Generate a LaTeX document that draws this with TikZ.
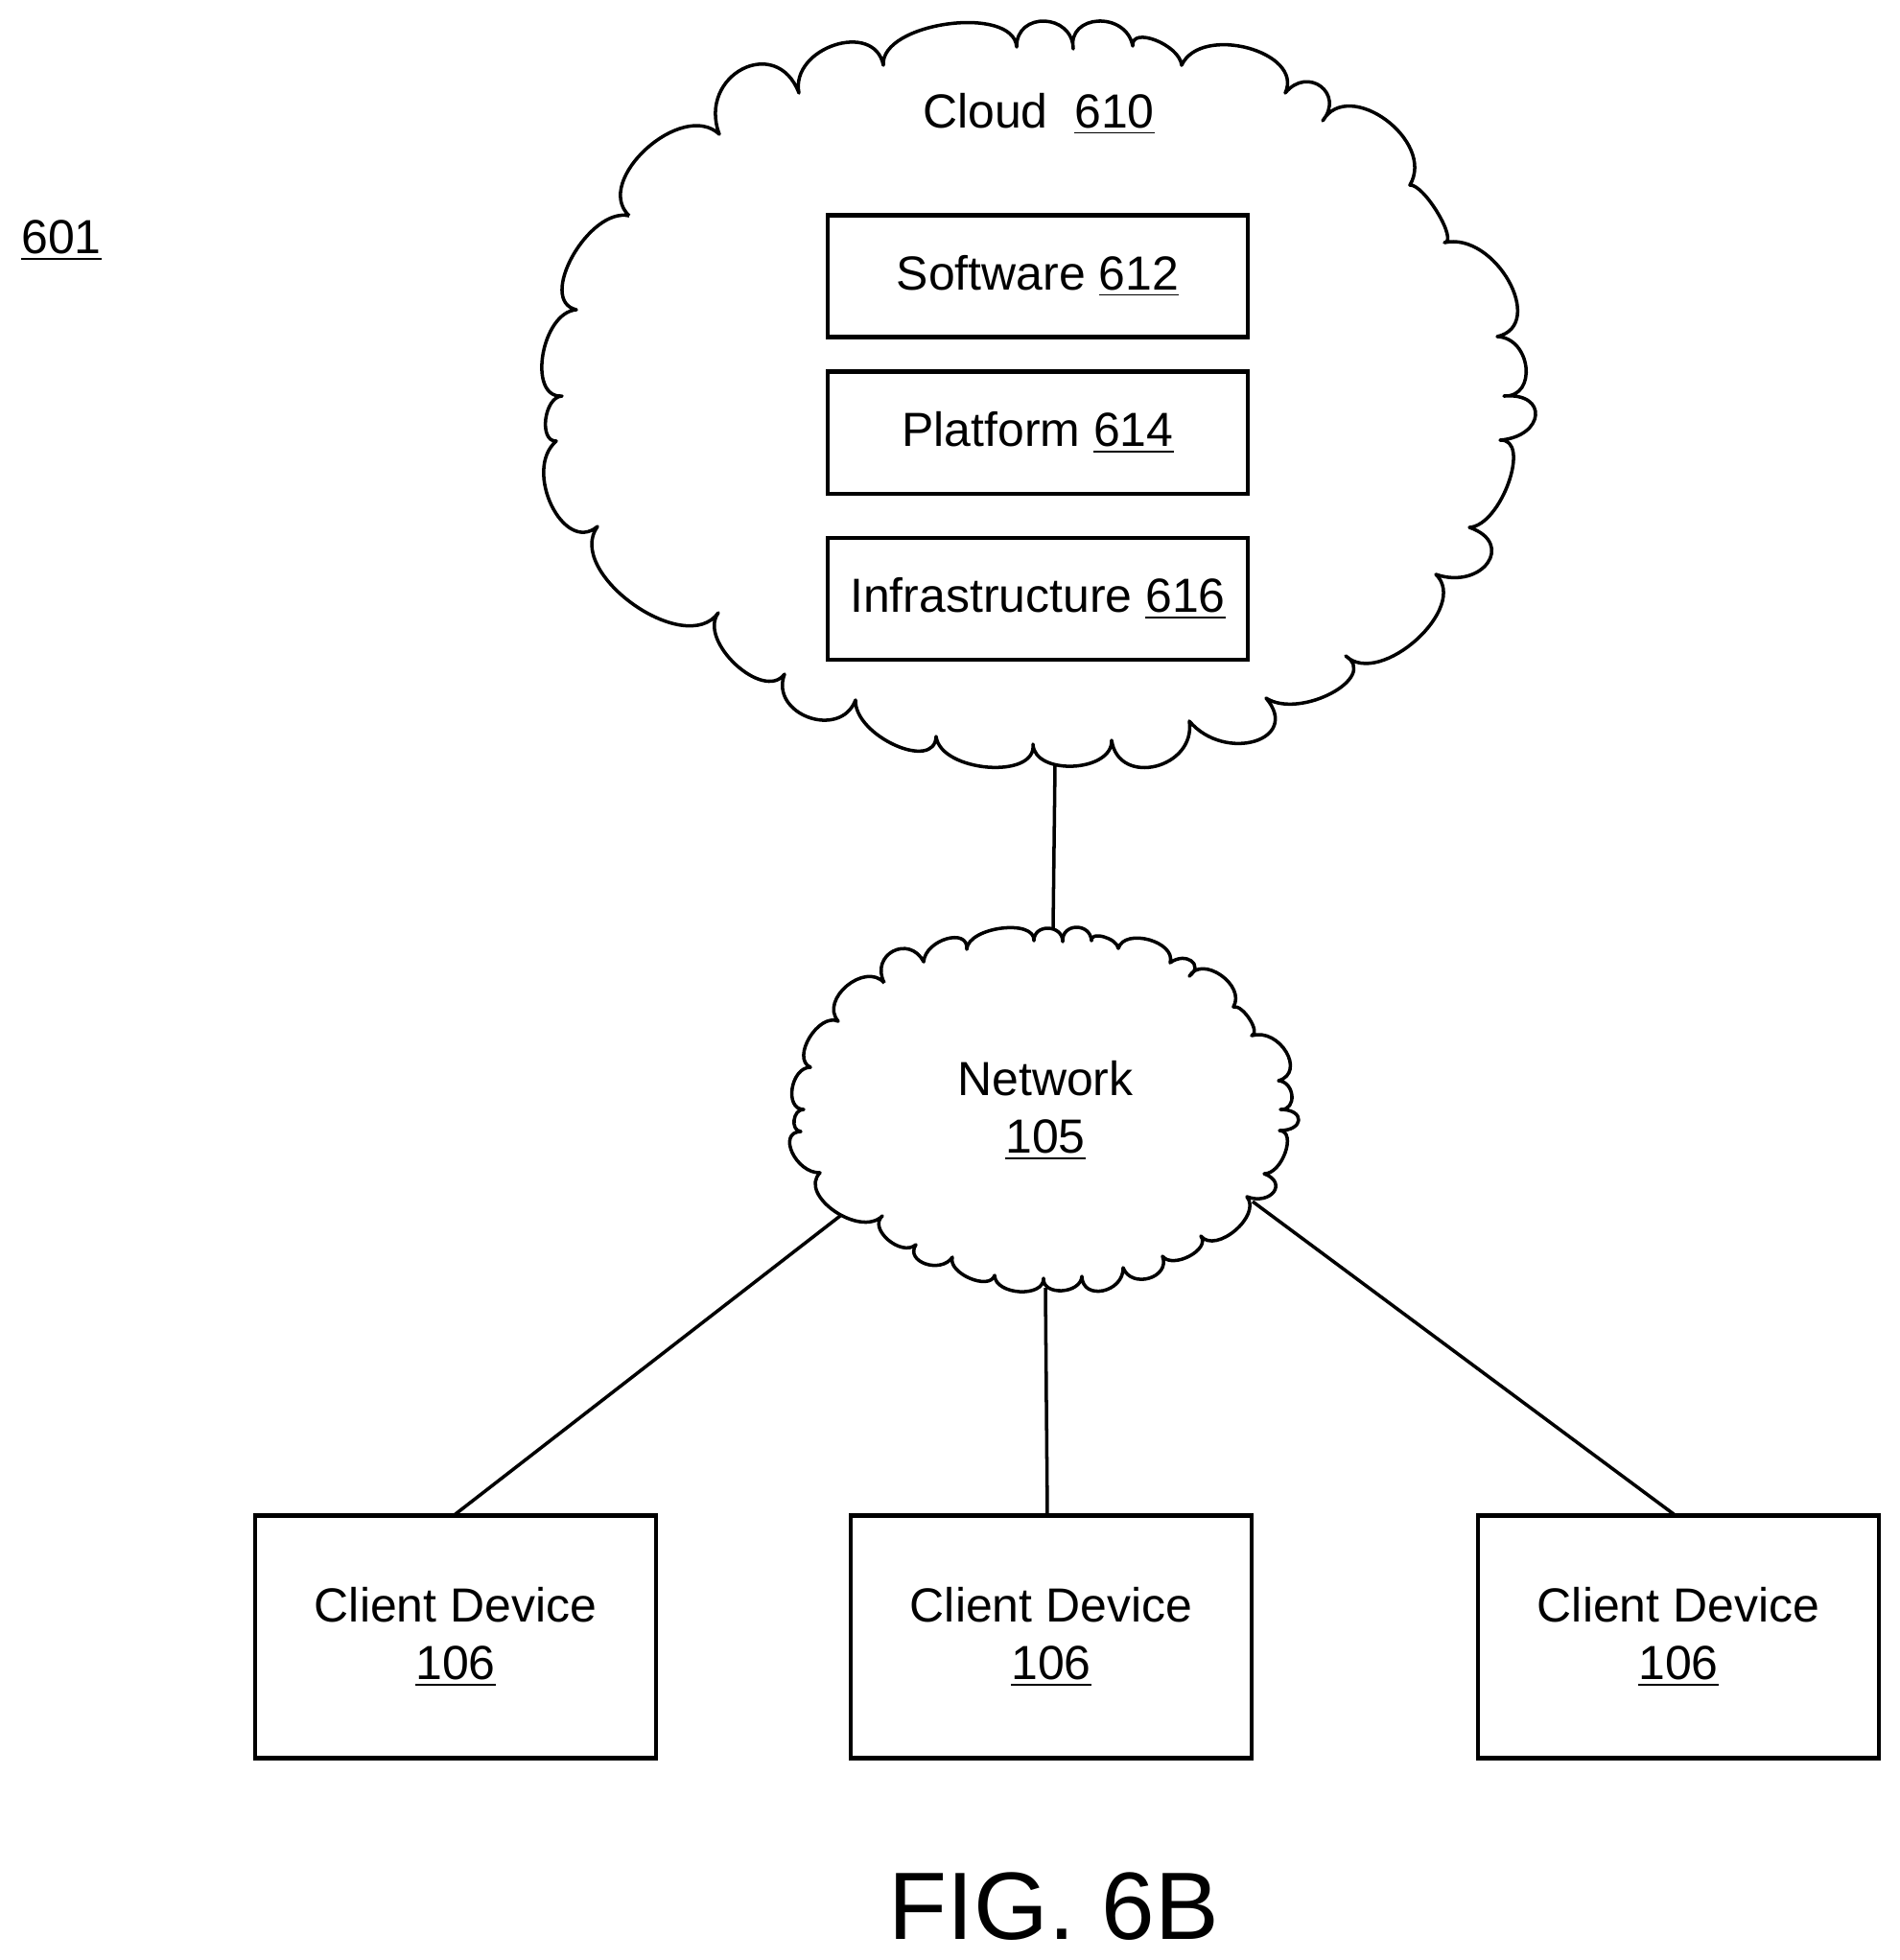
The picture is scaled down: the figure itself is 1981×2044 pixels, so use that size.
\documentclass[tikz,border=0pt]{standalone}
\usepackage{fontspec}
\setmainfont{Liberation Sans}
\usetikzlibrary{positioning}
\tikzstyle{label} = [font=\fontsize{14.2}{17.2}\selectfont, align=center]
\tikzstyle{block} = [rectangle, draw, line width=1.2pt, outer sep=0pt, label, minimum width=4.38cm, minimum height=1.27cm]
\tikzstyle{client} = [block, minimum width=4.18cm, minimum height=2.53cm]
\tikzstyle{line} = [draw, line width=1pt]
\tikzstyle{puff} = [draw, line width=1pt, line join=round]
% one bump per entry: curve midpoint, then the next cusp
\newcommand{\puffpath}[3]{\path[puff] (#1,#2) foreach \px/\py/\bx/\by [remember=\bx as \ax (initially #1), remember=\by as \ay (initially #2)] in {#3} { .. controls ({\ax+4/3*(\px-(\ax+\bx)/2)},{\ay+4/3*(\py-(\ay+\by)/2)}) and ({\bx+4/3*(\px-(\ax+\bx)/2)},{\by+4/3*(\py-(\ay+\by)/2)}) .. (\bx,\by)};}
\begin{document}
\begin{tikzpicture}[x=0.01cm, y=-0.01cm]
    \useasboundingbox (0,0) rectangle (1981,2044);
    % Clouds
    \puffpath{656}{225}{674/155/750/140, 774/72/833/97, 870/47/921/68, 988/25/1060/49, 1089/22/1119/51, 1145/22/1181/48, 1205/42/1232/68, 1301/50/1340/97, 1377/90/1379/126, 1445/125/1470/193, 1499/222/1506/253, 1573/293/1561/351, 1591/383/1568/413, 1601/433/1564/459, 1573/503/1532/550, 1551/587/1497/599, 1477/667/1403/684, 1388/723/1320/728, 1308/773/1240/752, 1205/799/1159/772, 1119/799/1077/776, 1030/800/976/768, 933/777/892/730, 843/748/818/703, 767/693/749/639, 660/630/623/549, 575/527/580/460, 569/437/586/413, 566/370/601/323, 597/267/656/225}
    \puffpath{922}{1025}{931/992/963/1003, 987/979/1008/990, 1044/968/1078/981, 1093/968/1108/982, 1122/967/1138/981, 1151/977/1166/989, 1198/980/1220/1004, 1242/1002/1240/1018, 1273/1017/1286/1050, 1303/1063/1305/1080, 1341/1097/1333/1127, 1347/1143/1335/1157, 1354/1168/1334/1179, 1340/1202/1318/1224, 1328/1243/1300/1248, 1288/1283/1252/1289, 1240/1310/1212/1310, 1198/1333/1171/1322, 1150/1346/1128/1331, 1107/1346/1088/1333, 1063/1347/1037/1330, 1011/1333/993/1311, 965/1318/955/1298, 926/1293/920/1268, 870/1263/855/1223, 826/1202/835/1180, 828/1168/838/1157, 826/1135/845/1113, 844/1082/874/1065, 883/1028/922/1025}
    % Place nodes
    \node [label] (refnum) at (64,251) {\underline{601}};
    \node [label] (cloud) at (1083,119) {Cloud\ \ \underline{610}};
    \node [block] (software) at (1082,288) {Software \underline{612}};
    \node [block, below=0.36cm of software] (platform) {Platform \underline{614}};
    \node [block, below=0.46cm of platform] (infra) {Infrastructure \underline{616}};
    \node [label] (network) at (1090,1158) {Network\\\underline{105}};
    \node [client] (clienta) at (475,1707) {Client Device\\\underline{106}};
    \node [client] (clientb) at (1096,1707) {Client Device\\\underline{106}};
    \node [client] (clientc) at (1750,1707) {Client Device\\\underline{106}};
    \node [font=\fontsize{28.4}{32}\selectfont] (figure) at (1099,1988) {FIG. 6B};
    \coordinate (cloudfoot) at (1100,798);
    \coordinate (nettop) at (1098,968);
    \coordinate (netleft) at (876,1268);
    \coordinate (netfoot) at (1090,1343);
    \coordinate (netright) at (1306,1253);
    % Draw edges
    \path [line] (cloudfoot) -- (nettop);
    \path [line] (netleft) -- ([xshift=-0.02cm]clienta.north);
    \path [line] (netfoot) -- ([xshift=-0.04cm]clientb.north);
    \path [line] (netright) -- ([xshift=-0.03cm]clientc.north);
\end{tikzpicture}
\end{document}
